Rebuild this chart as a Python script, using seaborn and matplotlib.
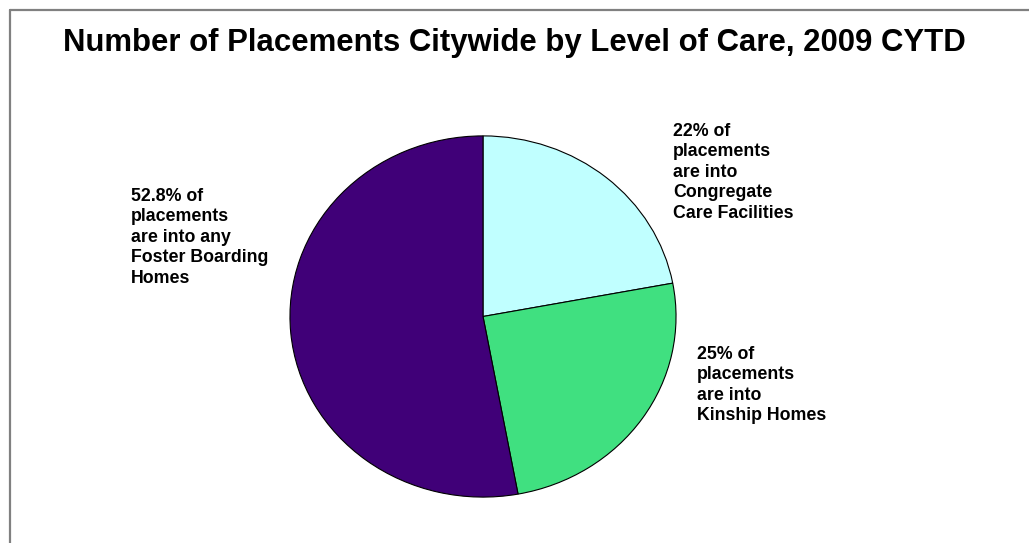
import matplotlib
matplotlib.use("Agg")
import matplotlib.pyplot as plt
import seaborn as sns
from matplotlib.lines import Line2D

categories = ["Congregate Care Facilities", "Kinship Homes", "Foster Boarding Homes"]
shares = [22.0, 25.0, 52.8]
colors = ["#C0FFFF", "#40E080", "#400078"]
labels = [
    "22% of\nplacements\nare into\nCongregate\nCare Facilities",
    "25% of\nplacements\nare into\nKinship Homes",
    "52.8% of\nplacements\nare into any\nFoster Boarding\nHomes",
]
title = "Number of Placements Citywide by Level of Care, 2009 CYTD"

sns.set_theme(style="white")
plt.rcParams["font.family"] = ["Liberation Sans", "DejaVu Sans"]

W, H = 1029, 543
fig = plt.figure(figsize=(W / 100, H / 100), dpi=100)
fig.patch.set_facecolor("white")

# pie axes (ellipse bounding box)
x0, x1, y0, y1 = 289, 677, 135, 498
ax = fig.add_axes([x0 / W, 1 - y1 / H, (x1 - x0) / W, (y1 - y0) / H])
ax.pie(shares, colors=colors, startangle=90, counterclock=False,
       wedgeprops=dict(edgecolor="black", linewidth=0.8))
ax.set_aspect("auto")
ax.set_xlim(-1.005, 1.005)
ax.set_ylim(-1.005, 1.005)
ax.axis("off")

# border (top & left visible)
fig.add_artist(Line2D([9.5 / W, 9.5 / W], [0, 1 - 9.5 / H], transform=fig.transFigure,
                      color="#808080", linewidth=1.6))
fig.add_artist(Line2D([9.5 / W, 1], [1 - 9.5 / H, 1 - 9.5 / H], transform=fig.transFigure,
                      color="#808080", linewidth=1.6))

fig.text(514 / W, 1 - 43 / H, title, ha="center", va="center",
         fontsize=22.4, fontweight="bold", color="black")

label_pos = [(673, 123), (697, 346), (131, 188)]
for lab, (px, py) in zip(labels, label_pos):
    fig.text(px / W, 1 - py / H, lab, ha="left", va="top", fontsize=12.8,
             fontweight="bold", color="black", linespacing=1.26)

fig.savefig("out.png", dpi=100, facecolor="white")
